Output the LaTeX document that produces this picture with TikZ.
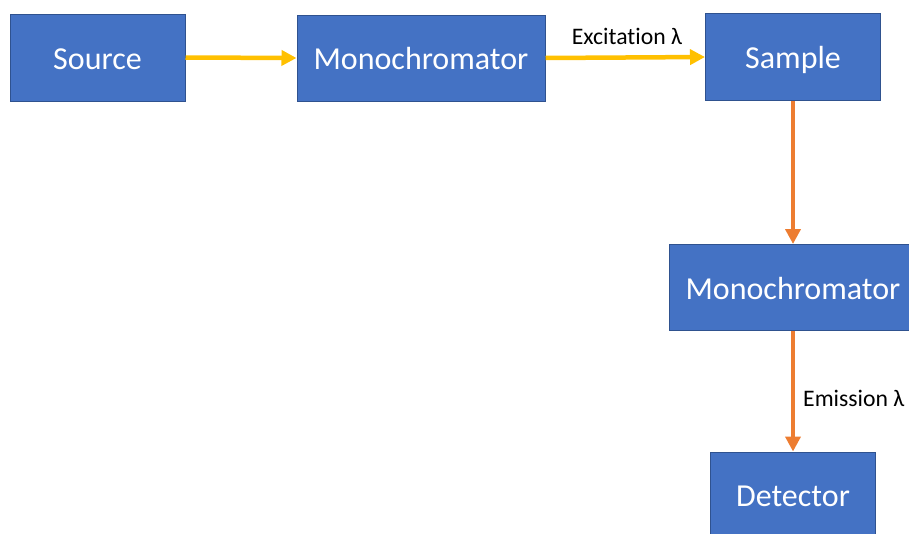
\documentclass[tikz,border=0pt]{standalone}
\usepackage{fontspec}
\setmainfont{Carlito}[Ligatures={NoCommon}]
\usetikzlibrary{arrows.meta}
\definecolor{boxfill}{HTML}{4472C4}
\definecolor{boxline}{HTML}{2F528F}
\definecolor{exc}{HTML}{FFC000}
\definecolor{emi}{HTML}{ED7D31}
\tikzset{
  block/.style={draw=boxline, line width=1pt, fill=boxfill, text=white,
    inner sep=0pt, font=\fontsize{32}{38}\selectfont, anchor=center,
    text height=23pt, text depth=0pt},
  beam/.style={line width=4.5pt, -{Triangle[length=15pt, width=15pt]}},
  lbl/.style={font=\fontsize{23.7}{28}\selectfont, text=black, inner sep=0pt,
    text height=15.3pt, text depth=0pt}
}
\begin{document}
\begin{tikzpicture}[x=1pt, y=-1pt]
  \useasboundingbox (0,0) rectangle (909,533);
  \clip (0,0) rectangle (909,533);
  % optical path blocks
  \node[block, minimum width=175pt, minimum height=87pt] (src) at (97.5,57.5) {Source};
  \node[block, minimum width=248pt, minimum height=86pt] (mono1) at (421,58) {Monochromator};
  \node[block, minimum width=175pt, minimum height=87pt] (smp) at (793,57) {Sample};
  \node[block, minimum width=248pt, minimum height=86pt] (mono2) at (793,287.5) {Monochromator};
  \node[block, minimum width=165pt, minimum height=86pt] (det) at (793,495) {Detector};
  % excitation beam
  \draw[beam, exc] (src.east) -- (mono1.west);
  \draw[beam, exc] (mono1.east) -- (smp.west);
  % emission beam
  \draw[beam, emi, line width=4pt] (smp.south) -- (mono2.north);
  \draw[beam, emi, line width=4pt] (mono2.south) -- (det.north);
  % labels
  \node[lbl] (exclbl) at (627,36.5) {Excitation λ};
  \node[lbl, anchor=west] (emilbl) at (803,398.5) {Emission λ};
\end{tikzpicture}
\end{document}
